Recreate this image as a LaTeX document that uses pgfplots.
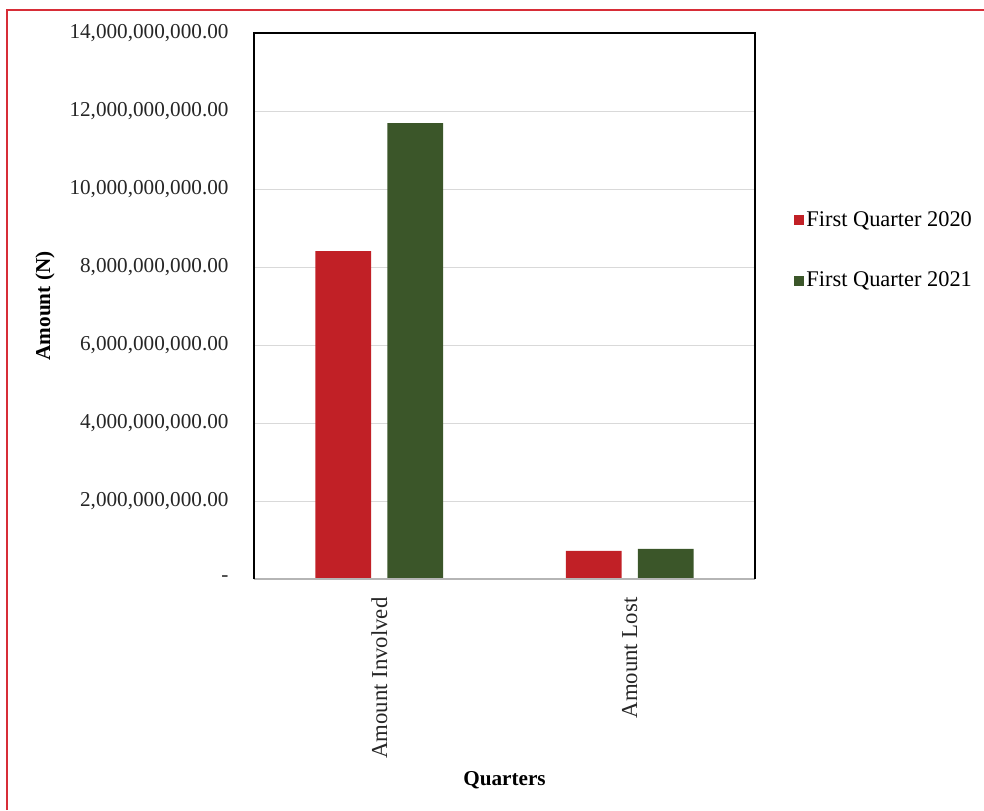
\documentclass[border=0pt]{standalone}
\usepackage{pgfplots}
\pgfplotsset{compat=1.18}
\usepackage{fontspec}
\setmainfont{Liberation Serif}
\definecolor{barred}{RGB}{193,32,38}
\definecolor{bargreen}{RGB}{59,86,41}
\definecolor{framered}{RGB}{215,45,55}
\definecolor{gridgray}{RGB}{217,217,217}
\begin{document}
\fontsize{10.6}{12.7}\selectfont
\begin{tikzpicture}
\useasboundingbox (-127pt,-115.5pt) rectangle (365pt,289.5pt);
\draw[framered, line width=0.7pt] (-123.5pt,-115.5pt) -- (-123.5pt,284.5pt) -- (365pt,284.5pt);
\begin{axis}[
  scale only axis, width=250.5pt, height=273pt,
  xmin=-0.5, xmax=1.5, ymin=0, ymax=14000000000,
  scaled y ticks=false,
  xtick={0,1}, xticklabels={Amount Involved, Amount Lost},
  ytick={0,2000000000,4000000000,6000000000,8000000000,10000000000,12000000000,14000000000},
  yticklabels={-,{2,000,000,000.00},{4,000,000,000.00},{6,000,000,000.00},{8,000,000,000.00},{10,000,000,000.00},{12,000,000,000.00},{14,000,000,000.00}},
  major tick length=0pt,
  ymajorgrids, grid style={gridgray, line width=0.5pt},
  axis line style={draw=none},
  tick label style={font=\fontsize{10.6}{12.7}\selectfont, text=black!85},
  yticklabel style={xshift=-9pt},
  xticklabel style={rotate=90, anchor=east, xshift=-5.5pt, font=\fontsize{11.4}{13}\selectfont},
  ylabel={\textbf{Amount (N)}},
  xlabel={\textbf{Quarters}},
  every axis y label/.style={at={(rel axis cs:0,0.5)}, xshift=-104.5pt, rotate=90, anchor=center, font=\fontsize{10.6}{12.7}\selectfont},
  every axis x label/.style={at={(rel axis cs:0.5,0)}, yshift=-100.5pt, anchor=center, font=\fontsize{10.6}{12.7}\selectfont},
  legend style={at={(rel axis cs:1.066,0.685)}, anchor=north west, draw=none, fill=none, row sep=19pt, font=\fontsize{11.2}{13}\selectfont, nodes={inner sep=1pt}},
  legend cell align=left,
  after end axis/.code={
    \draw[gridgray!60!gray, line width=1pt] (rel axis cs:0,0) -- (rel axis cs:1,0);
    \draw[black, line width=1pt] (rel axis cs:0,0) -- (rel axis cs:0,1) -- (rel axis cs:1,1) -- (rel axis cs:1,0);
  },
]
\addplot[ybar, bar width=0.223, bar shift=-0.1435, fill=barred, draw=none,
  legend image code/.code={\fill[barred] (0pt,-2.5pt) rectangle (5pt,2.5pt);}]
  coordinates {(0,8410000000) (1,720000000)};
\addplot[ybar, bar width=0.223, bar shift=0.1435, fill=bargreen, draw=none,
  legend image code/.code={\fill[bargreen] (0pt,-2.5pt) rectangle (5pt,2.5pt);}]
  coordinates {(0,11690000000) (1,770000000)};
\legend{First Quarter 2020, First Quarter 2021}
\end{axis}
\end{tikzpicture}
\end{document}
